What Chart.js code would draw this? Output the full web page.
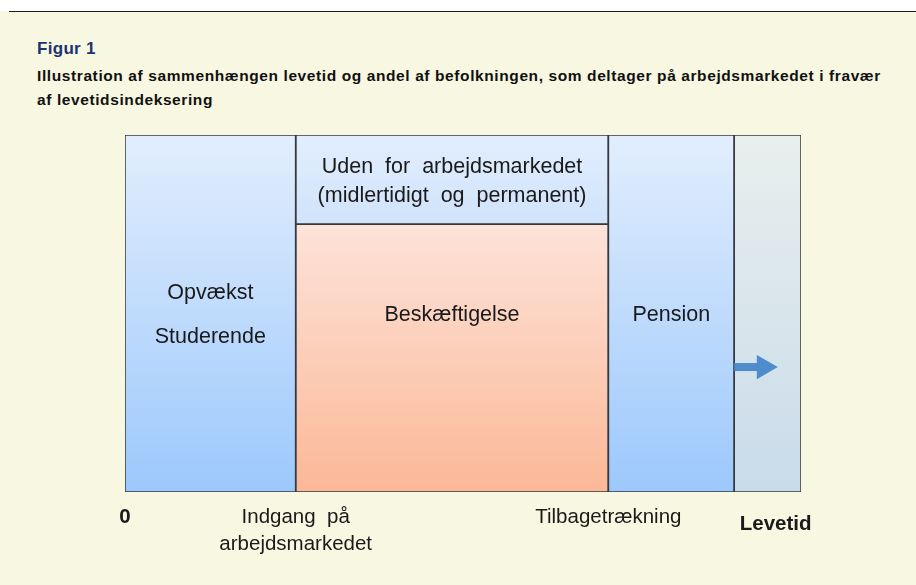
<!DOCTYPE html>
<html>
<head>
<meta charset="utf-8">
<script src="https://cdn.jsdelivr.net/npm/chart.js@4.4.0/dist/chart.umd.min.js"></script>
<style>
    html, body { margin: 0; padding: 0; }
    body {
        width: 916px; height: 585px; position: relative; overflow: hidden;
        background: #f8f7e1; font-family: "Liberation Sans", Arial, sans-serif;
    }
    #topbar { position: absolute; left: 0; top: 0; width: 916px; height: 11px; background: #fff; }
    #rule { position: absolute; left: 9px; top: 11px; right: 0; height: 1px; background: #1a1a1a; }
    #title { position: absolute; left: 37px; top: 39px; margin: 0; line-height: 20px; font-size: 17px; letter-spacing: 0.3px; font-weight: bold; color: #1b3471; }
    #subtitle { position: absolute; left: 37px; top: 64px; margin: 0; line-height: 24px; font-size: 15.5px; letter-spacing: 0.6px; font-weight: bold; color: #111; white-space: nowrap; }
    #wrap { position: absolute; left: 0; top: 0; width: 916px; height: 585px; }
</style>
</head>
<body>
<div id="topbar"></div>
<div id="rule"></div>
<h1 id="title">Figur 1</h1>
<p id="subtitle">Illustration af sammenhængen levetid og andel af befolkningen, som deltager på arbejdsmarkedet i fravær<br>af levetidsindeksering</p>
<div id="wrap"><canvas id="figur"></canvas></div>

<script>
// livsfaser: alder (x) og andel af befolkningen i pct. (y)
const stages = [
    ["Opvækst", "Studerende"],
    ["Uden  for  arbejdsmarkedet", "(midlertidigt  og  permanent)"],
    ["Beskæftigelse"],
    ["Pension"],
    [""],
];
const ageFrom = [0, 20.2, 20.2, 57.2, 72.1];
const ageTo = [20.2, 57.2, 57.2, 72.1, 80];
const shareFrom = [0, 75, 0, 0, 0];
const shareTo = [100, 100, 75, 100, 100];

const tickAges = [0, 20.2, 57.2, 77];
const tickLabels = ["0", ["Indgang  på", "arbejdsmarkedet"], "Tilbagetrækning", "Levetid"];

const arrowAges = [72.1, 75.6];
const arrowShare = 35;

const FONT = "'Liberation Sans', Arial, sans-serif";
const fills = [
    ["#e2eefd", "#9cc8fc"],
    ["#e2eefd", "#d0e3fb"],
    ["#fde3d9", "#fbb897"],
    ["#e2eefd", "#9cc8fc"],
    ["#e8efed", "#c9dbea"],
];
const lineGap = [44, 29, 0, 0, 0];

function gradient(chart, i) {
    const y = chart.scales.y;
    if (!y || !chart.chartArea) return fills[i][1];
    const top = y.getPixelForValue(shareTo[i]);
    const bottom = y.getPixelForValue(shareFrom[i]);
    if (!isFinite(top) || !isFinite(bottom)) return fills[i][1];
    const g = chart.ctx.createLinearGradient(0, top, 0, bottom);
    g.addColorStop(0, fills[i][0]);
    g.addColorStop(1, fills[i][1]);
    return g;
}

const datasets = [];
stages.forEach((s, i) => {
    datasets.push({
        label: s.join(" "),
        data: [{ x: ageFrom[i], y: shareTo[i] }, { x: ageTo[i], y: shareTo[i] }],
        fill: { value: shareFrom[i] },
        backgroundColor: (c) => gradient(c.chart, i),
        borderWidth: 0,
        pointRadius: 0,
        order: 3,
    });
});
stages.forEach((s, i) => {
    datasets.push({
        label: "ramme",
        data: [
            { x: ageFrom[i], y: shareFrom[i] },
            { x: ageTo[i], y: shareFrom[i] },
            { x: ageTo[i], y: shareTo[i] },
            { x: ageFrom[i], y: shareTo[i] },
            { x: ageFrom[i], y: shareFrom[i] },
        ],
        fill: false,
        borderColor: "#35383d",
        borderWidth: 1.5,
        pointRadius: 0,
        order: 2,
    });
});
datasets.push({
    label: "pil",
    data: arrowAges.map((a) => ({ x: a, y: arrowShare })),
    fill: false,
    borderColor: "#4f8ccc",
    borderWidth: 8,
    pointRadius: [0, 14],
    pointStyle: "triangle",
    rotation: 90,
    pointBackgroundColor: "#4f8ccc",
    pointBorderWidth: 0,
    order: 1,
});

const boxLabels = {
    id: "boxLabels",
    afterDatasetsDraw(chart) {
        const { ctx, scales } = chart;
        ctx.save();
        ctx.fillStyle = "#1a1a1a";
        ctx.font = "21.5px " + FONT;
        ctx.textAlign = "center";
        ctx.textBaseline = "middle";
        stages.forEach((lines, i) => {
            const x = scales.x.getPixelForValue((ageFrom[i] + ageTo[i]) / 2);
            const mid = shareFrom[i] > 0 ? (shareFrom[i] + shareTo[i]) / 2 : 50;
            const y = scales.y.getPixelForValue(mid) + 2;
            lines.forEach((t, k) => {
                ctx.fillText(t, x, y + (k - (lines.length - 1) / 2) * lineGap[i]);
            });
        });
        ctx.restore();
    },
};

new Chart(document.getElementById("figur"), {
    type: "line",
    data: { datasets: datasets },
    options: {
        responsive: true,
        maintainAspectRatio: false,
        animation: false,
        layout: { padding: { left: 125, right: 115, top: 135, bottom: 0 } },
        plugins: {
            legend: { display: false },
            tooltip: { enabled: false },
        },
        scales: {
            x: {
                type: "linear",
                min: 0,
                max: 80,
                grid: { display: false },
                border: { display: false },
                afterBuildTicks: (s) => { s.ticks = tickAges.map((v) => ({ value: v })); },
                afterFit: (s) => { s.height = 93; },
                ticks: {
                    color: "#1a1a1a",
                    padding: 4,
                    maxRotation: 0,
                    autoSkip: false,
                    callback: (v, i) => tickLabels[i],
                    font: (c) => {
                        const i = c.index;
                        const bold = i === 0 || i === 3;
                        return {
                            family: FONT,
                            size: bold ? 20.5 : 20.5,
                            weight: bold ? "bold" : "normal",
                            lineHeight: i === 3 ? "41px" : "27px",
                        };
                    },
                },
            },
            y: {
                display: false,
                min: 0,
                max: 100,
            },
        },
    },
    plugins: [boxLabels],
});
</script>
</body>
</html>
